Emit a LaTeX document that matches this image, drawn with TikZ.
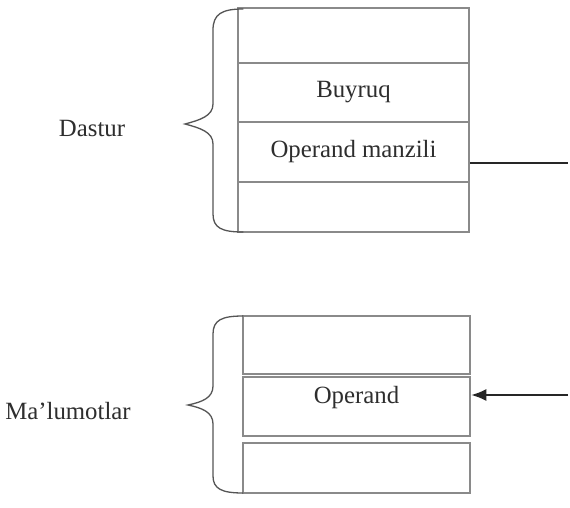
\documentclass[tikz,border=0pt]{standalone}
\usepackage{fontspec}
\setmainfont{Liberation Serif}
\usetikzlibrary{arrows.meta}
\definecolor{cellline}{HTML}{8A8A8A}
\definecolor{braceline}{HTML}{555555}
\definecolor{ink}{HTML}{2E2E2E}
\begin{document}
\begin{tikzpicture}[x=1pt,y=-1pt,
  cell/.style={draw=cellline, line width=2.6pt, rectangle, inner sep=0pt,
    font=\fontsize{24.8}{28}\selectfont, text=ink},
  memtext/.style={font=\fontsize{24.8}{28}\selectfont, text=ink, inner sep=0pt},
  bracepath/.style={draw=braceline, line width=1.3pt, line cap=round},
  link/.style={draw=black!85, line width=1.6pt}]
\useasboundingbox (0,0) rectangle (570,508);
\fill[white] (0,0) rectangle (570,508);

% program area: four memory cells
\node[cell, minimum width=231pt, minimum height=55pt] (t1) at (353.5,35.5) {};
\node[cell, minimum width=231pt, minimum height=59pt] (t2) at (353.5,92.5) {Buyruq};
\node[cell, minimum width=231pt, minimum height=60pt] (t3) at (353.5,152) {Operand manzili};
\node[cell, minimum width=231pt, minimum height=50pt] (t4) at (353.5,207) {};

% data area: three memory cells
\node[cell, minimum width=227pt, minimum height=58pt] (b1) at (356.5,345) {};
\node[cell, minimum width=227pt, minimum height=59pt] (b2) at (356.5,406.5) {};
\node[cell, minimum width=227pt, minimum height=50pt] (b3) at (356.5,468) {};
\node[memtext] (opd) at (356.5,398) {Operand};

% braces
\draw[bracepath] (243,9) .. controls (222,9) and (213,14) .. (213,30)
  -- (213,104) .. controls (213,116) and (200,120) .. (185,124)
  .. controls (200,128) and (213,132) .. (213,144)
  -- (213,214) .. controls (213,228) and (222,232) .. (243,232);
\draw[bracepath] (243,316) .. controls (222,316) and (213,320) .. (213,334)
  -- (213,386) .. controls (213,398) and (202,402) .. (188,405)
  .. controls (202,408) and (213,412) .. (213,424)
  -- (213,476) .. controls (213,489) and (222,493) .. (243,493);

% labels
\node[memtext] (dastur) at (92,129) {Dastur};
\node[memtext] (malum) at (68,411) {Ma’lumotlar};

% address line and pointer to the operand
\coordinate (addrEnd) at (568,163);
\coordinate (ptrStart) at (568,395);
\draw[link] (t3.east |- addrEnd) -- (addrEnd);
\draw[link, -{Latex[length=15pt, width=12pt]}] (ptrStart) -- (ptrStart -| b2.east);
\end{tikzpicture}
\end{document}
